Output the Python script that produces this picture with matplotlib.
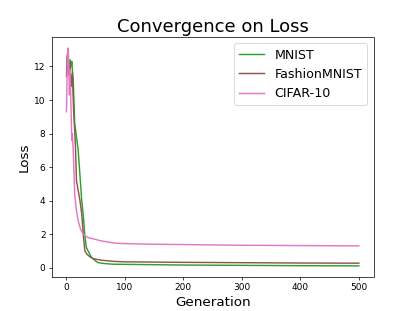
import matplotlib
matplotlib.use("Agg")
import matplotlib.pyplot as plt

mnist_x = [3, 5, 7, 9, 10, 12.5, 15, 18, 21, 24, 27, 30, 32, 35, 40, 44, 50, 55, 65, 80, 100, 150, 200, 300, 400, 500]
mnist_y = [12.5, 11.8, 12.4, 12.0, 12.3, 11.2, 8.6, 7.8, 7.0, 5.5, 4.0, 3.0, 2.0, 1.2, 0.85, 0.6, 0.42, 0.3, 0.25, 0.21, 0.2, 0.18, 0.16, 0.14, 0.12, 0.11]

fmnist_x = [1, 2, 3, 5, 7, 9, 11, 13, 15, 16.5, 18, 21, 24, 27, 29.6, 32.4, 36, 41, 46, 52, 60, 80, 100, 200, 300, 400, 500]
fmnist_y = [11.4, 12.6, 12.8, 11.5, 12.2, 10.8, 11.6, 9.5, 8.2, 7.0, 5.2, 4.6, 4.0, 3.2, 2.0, 1.0, 0.8, 0.65, 0.55, 0.5, 0.45, 0.38, 0.35, 0.32, 0.3, 0.28, 0.27]

cifar_x = [1, 2, 3, 4, 5, 6, 7, 8, 9, 10, 11, 12.5, 15, 18, 21, 25, 29.6, 35, 40, 49, 60, 84, 100, 150, 200, 300, 400, 500]
cifar_y = [9.3, 11.5, 12.6, 13.1, 12.0, 10.3, 11.8, 10.5, 9.2, 7.6, 8.0, 7.0, 4.4, 3.4, 2.8, 2.3, 2.0, 1.85, 1.78, 1.7, 1.6, 1.46, 1.44, 1.4, 1.38, 1.34, 1.32, 1.3]

fig = plt.figure(figsize=(6.4, 4.8), dpi=415 / 6.4)
ax = fig.add_axes([0.125, 0.11, 0.775, 0.77])
ax.plot(mnist_x, mnist_y, color="#2ca02c", lw=1.6, label="MNIST")
ax.plot(fmnist_x, fmnist_y, color="#8c564b", lw=1.6, label="FashionMNIST")
ax.plot(cifar_x, cifar_y, color="#e377c2", lw=1.6, label="CIFAR-10")
ax.set_title("Convergence on Loss", fontsize=20)
ax.set_xlabel("Generation", fontsize=15)
ax.set_ylabel("Loss", fontsize=15)
ax.tick_params(labelsize=10)
ax.set_xticks([0, 100, 200, 300, 400, 500])
ax.set_yticks([0, 2, 4, 6, 8, 10, 12])
ax.legend(loc="upper right", fontsize=14)
fig.savefig("out.png", dpi=415 / 6.4)
